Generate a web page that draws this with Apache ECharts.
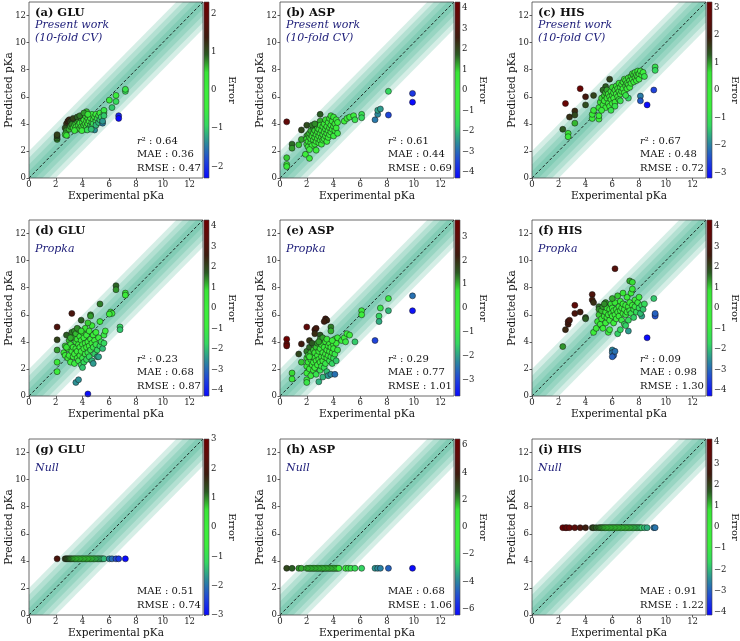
<!DOCTYPE html>
<html>
<head>
<meta charset="utf-8">
<script src="https://cdn.jsdelivr.net/npm/echarts@6/dist/echarts.min.js"></script>
<style>
  html, body { margin: 0; padding: 0; background: #fff; }
  #chart { width: 740px; height: 641px; }
</style>
</head>
<body>
<div id="chart"></div>
<script>
// panel labels
var panelTitles = ['(a) GLU', '(b) ASP', '(c) HIS', '(d) GLU', '(e) ASP', '(f) HIS', '(g) GLU', '(h) ASP', '(i) HIS'];
var methodNames = ['Present work\n(10-fold CV)', 'Propka', 'Null'];
var r2Values = ['0.64', '0.61', '0.67', '0.23', '0.29', '0.09', null, null, null];
var maeValues = ['0.36', '0.44', '0.48', '0.68', '0.77', '0.98', '0.51', '0.68', '0.91'];
var rmseValues = ['0.47', '0.69', '0.72', '0.87', '1.01', '1.30', '0.74', '1.06', '1.22'];

// colorbar limits and ticks
var errLimits = [2.3, 4.3, 3.2, 4.3, 3.7, 4.3, 3.0, 6.45, 4.15];
var errTicks = [
  [-2, -1, 0, 1, 2], [-4, -3, -2, -1, 0, 1, 2, 3, 4], [-3, -2, -1, 0, 1, 2, 3],
  [-4, -3, -2, -1, 0, 1, 2, 3, 4], [-3, -2, -1, 0, 1, 2, 3], [-4, -3, -2, -1, 0, 1, 2, 3, 4],
  [-3, -2, -1, 0, 1, 2, 3], [-6, -4, -2, 0, 2, 4, 6], [-4, -3, -2, -1, 0, 1, 2, 3, 4]
];
var axisTicks = [0, 2, 4, 6, 8, 10, 12];
var bandHalfWidths = [2, 1.5, 1, 0.5];

// error colormap (blue -> teal -> green -> black -> dark red)
var cmap = ['#0a0aff', '#2046d8', '#2c8a9a', '#34d860', '#3cee3c', '#3cee3c',
            '#38e436', '#2a5a22', '#3e1a0e', '#5e0c0a', '#6e0000'];

// [experimental, predicted]
var gluPresent = [
  [2.1,2.85],[2.1,2.95],[2.1,3.1],[2.1,3.2],
  [2.8,4.0],[2.9,4.2],[3.0,4.3],[3.1,4.15],[3.2,4.25],[3.3,4.1],[2.7,3.7],[2.8,3.5],[2.75,3.3],[2.7,3.2],[2.8,3.15],
  [3.0,3.6],[3.1,3.8],[3.2,3.95],[3.3,3.7],[3.4,3.9],[3.5,4.0],[3.5,3.75],[3.6,4.2],[3.6,3.6],[3.7,3.9],[3.7,4.3],
  [3.8,4.05],[3.8,3.65],[3.9,4.4],[3.9,3.8],[4.0,4.1],[4.0,3.7],[4.0,4.5],[4.1,3.9],[4.1,4.3],[4.2,4.0],[4.2,3.6],
  [4.2,4.6],[4.3,4.2],[4.3,3.8],[4.3,4.9],[4.4,4.4],[4.4,4.0],[4.5,3.7],[4.5,4.6],[4.5,4.2],[4.6,3.9],[4.6,4.4],
  [4.7,4.1],[4.7,4.7],[4.7,3.8],[4.8,4.3],[4.8,4.0],[4.9,4.5],[4.9,3.55],[5.0,4.2],[5.0,4.7],[5.0,3.9],[5.1,4.4],
  [5.2,4.1],[5.2,4.6],[5.3,4.3],[5.3,4.8],[5.4,4.5],[5.5,4.05],[5.5,4.2],[5.6,4.8],[5.6,5.0],[5.6,4.6],[3.4,3.5],
  [3.3,4.4],[3.6,4.5],[3.8,4.6],[4.1,4.8],[4.4,4.7],[3.95,3.5],[4.35,3.55],[4.65,3.6],
  [6.0,5.75],[6.2,5.2],[6.5,5.65],[6.5,6.1],[7.2,6.4],[7.2,6.55],[6.7,4.6],[6.7,4.4]
];
var aspPresent = [
  [0.5,4.15],[0.5,1.5],[0.5,1.0],[0.5,0.85],[0.9,2.5],[0.9,2.2],[1.4,2.45],[1.6,3.55],[1.6,2.85],[2.0,3.9],
  [1.9,1.75],[2.0,2.5],[2.2,1.45],[2.0,3.1],[2.0,2.9],[2.1,3.2],[2.1,2.7],[2.1,2.3],[2.2,3.0],[2.2,3.3],[2.3,2.6],
  [2.3,2.9],[2.3,3.5],[2.4,2.4],[2.4,3.1],[2.5,2.8],[2.5,3.3],[2.5,3.7],[2.6,2.5],[2.6,3.0],[2.6,3.5],[2.7,2.7],
  [2.7,3.2],[2.7,3.9],[2.7,2.05],[2.8,2.9],[2.8,3.4],[2.8,3.7],[2.9,2.6],[2.9,3.1],[2.9,3.6],[3.0,2.8],[3.0,3.3],
  [3.0,4.7],[3.0,4.2],[3.0,3.9],[3.1,3.0],[3.1,3.5],[3.1,2.5],[3.2,3.2],[3.2,3.8],[3.2,2.8],[3.3,3.4],[3.3,4.0],
  [3.3,2.9],[3.4,3.6],[3.4,3.1],[3.4,4.3],[3.5,3.3],[3.5,3.8],[3.5,2.7],[3.6,3.5],[3.6,4.1],[3.6,3.0],[3.7,3.7],
  [3.7,4.4],[3.7,3.2],[3.8,3.9],[3.8,3.4],[3.8,4.6],[3.9,3.6],[3.9,4.2],[4.0,3.8],[4.0,3.1],[4.0,4.5],[4.1,4.0],
  [4.1,3.5],[4.2,4.3],[4.2,3.7],[4.3,4.1],[4.3,3.3],[2.4,3.9],[2.2,2.1],[2.6,4.0],
  [4.8,4.2],[5.0,4.4],[5.2,4.5],[5.5,4.6],[5.6,4.3],[6.1,4.7],[6.1,4.45],[7.1,4.3],[7.3,4.7],[7.3,5.0],[7.5,5.1],
  [8.1,6.4],[8.1,4.65],[9.9,6.25],[9.9,5.6]
];
var hisPresent = [
  [2.3,3.6],[2.5,5.5],[2.7,3.3],[2.7,3.05],[2.8,4.5],[3.2,4.95],[3.2,4.65],[3.2,4.05],[3.6,6.6],[4.0,6.0],[4.0,5.4],
  [4.6,6.1],[4.5,4.4],[4.5,4.7],[4.6,5.0],[5.0,4.35],[5.0,4.6],[5.8,7.3],[5.5,6.75],[5.3,6.5],
  [5.0,5.2],[5.1,5.6],[5.2,5.9],[5.3,5.4],[5.4,6.1],[5.4,5.7],[5.5,6.3],[5.5,5.2],[5.6,5.9],[5.6,6.5],[5.7,5.5],
  [5.7,6.2],[5.8,6.0],[5.8,5.3],[5.9,6.4],[5.9,5.8],[6.0,6.1],[6.0,5.5],[6.0,6.7],[6.1,6.3],[6.1,5.9],[6.2,6.5],
  [6.2,5.6],[6.3,6.2],[6.3,6.8],[6.4,6.0],[6.4,6.6],[6.5,6.4],[6.5,5.8],[6.5,7.0],[6.6,6.7],[6.6,6.2],[6.7,6.9],
  [6.7,6.4],[6.8,7.1],[6.8,6.6],[6.9,6.3],[6.9,7.3],[7.0,6.8],[7.0,7.2],[7.1,7.0],[7.1,6.6],[7.2,7.4],[7.2,6.9],
  [7.3,7.2],[7.3,6.7],[7.4,7.5],[7.4,7.0],[7.5,7.3],[7.5,7.7],[7.6,7.1],[7.6,7.6],[7.7,7.4],[7.7,7.8],[7.8,7.6],
  [7.8,7.2],[7.9,7.9],[7.9,7.5],[8.0,7.7],[8.0,7.3],[8.1,7.9],[8.2,7.6],[8.3,7.8],[8.4,7.5],[6.2,5.3],[5.9,5.0],
  [6.6,5.7],[5.2,5.0],[7.2,5.9],[7.0,6.1],
  [9.2,8.2],[9.2,7.95],[8.1,6.05],[8.1,5.7],[8.6,5.4],[9.1,6.5]
];
var gluPropka = [
  [2.1,5.1],[2.1,4.15],[2.1,3.4],[2.1,2.5],[2.1,1.8],[3.2,6.1],[3.9,5.6],[4.6,6.0],[4.6,5.9],[5.3,6.8],[6.5,8.15],
  [6.5,7.85],[7.2,7.6],[7.2,7.45],[6.1,6.2],[6.2,6.1],[6.0,6.05],[6.8,5.1],[6.8,4.9],[3.5,1.0],[3.7,1.2],[4.4,0.15],
  [2.6,3.2],[2.7,3.0],[2.7,3.7],[2.8,4.5],[2.9,2.8],[2.9,3.5],[3.0,4.1],[3.0,3.0],[3.1,2.5],[3.1,3.8],[3.2,4.7],
  [3.2,3.3],[3.3,2.9],[3.3,4.3],[3.3,3.6],[3.4,4.8],[3.4,3.1],[3.4,2.4],[3.5,4.0],[3.5,3.5],[3.5,4.6],[3.6,2.8],
  [3.6,3.3],[3.6,4.2],[3.7,3.8],[3.7,2.6],[3.7,4.9],[3.8,3.0],[3.8,4.4],[3.8,3.6],[3.9,2.3],[3.9,3.3],[3.9,4.1],
  [4.0,3.8],[4.0,4.7],[4.0,2.8],[4.1,3.5],[4.1,4.3],[4.1,2.5],[4.2,3.1],[4.2,3.9],[4.2,5.0],[4.3,3.6],[4.3,4.5],
  [4.3,2.7],[4.4,4.0],[4.4,3.2],[4.5,3.7],[4.5,4.8],[4.5,2.9],[4.6,4.2],[4.6,3.4],[4.7,3.9],[4.7,2.6],[4.7,5.2],
  [4.8,3.6],[4.8,4.5],[4.9,3.1],[4.9,4.1],[5.0,3.8],[5.0,4.7],[5.1,3.4],[5.1,2.9],[5.2,4.3],[5.3,3.7],[5.4,4.0],
  [5.5,3.5],[5.6,3.9],[5.6,4.5],[5.7,4.8],[5.3,5.5],[4.4,5.4],[3.6,5.0],[3.9,4.8],[3.1,4.3],[2.8,3.6],[4.0,2.1],
  [4.8,2.4],[5.2,2.9]
];
var aspPropka = [
  [0.5,4.2],[0.5,3.85],[0.5,3.7],[0.9,1.7],[0.9,1.25],[1.4,3.1],[1.6,3.85],[1.6,2.5],[2.0,5.1],[2.2,4.1],[2.6,4.9],
  [2.7,5.0],[2.6,4.6],[3.0,4.5],[3.0,4.2],[3.4,5.7],[3.5,5.6],[3.3,5.5],[3.8,5.1],[3.8,4.8],[3.2,4.3],
  [2.0,3.3],[2.0,2.8],[2.0,2.2],[2.0,1.7],[2.0,1.2],[2.0,1.0],[2.1,3.0],[2.1,2.5],[2.2,3.6],[2.2,2.0],[2.3,2.7],
  [2.3,3.2],[2.3,1.5],[2.4,2.3],[2.4,3.9],[2.4,2.9],[2.5,2.5],[2.5,3.4],[2.5,1.9],[2.6,2.8],[2.6,3.2],[2.6,2.1],
  [2.7,2.6],[2.7,3.6],[2.7,1.6],[2.8,3.0],[2.8,2.3],[2.8,3.9],[2.9,2.7],[2.9,1.05],[2.9,3.3],[3.0,2.5],[3.0,3.5],
  [3.0,1.9],[3.1,2.9],[3.1,3.8],[3.1,2.2],[3.2,3.2],[3.2,2.6],[3.2,1.4],[3.3,3.6],[3.3,2.9],[3.3,2.1],[3.4,3.1],
  [3.4,4.0],[3.4,2.4],[3.5,3.4],[3.5,2.8],[3.5,1.8],[3.6,3.7],[3.6,3.0],[3.6,1.5],[3.7,2.6],[3.7,3.9],[3.7,3.3],
  [3.8,2.9],[3.8,1.6],[3.8,3.6],[3.9,3.2],[3.9,2.4],[4.0,3.8],[4.0,2.8],[4.0,3.5],[4.1,4.2],[4.1,1.6],[4.1,3.1],
  [4.2,2.6],[4.2,3.9],[4.3,3.4],[4.3,4.3],[2.2,2.9],[2.9,4.0],[3.5,4.2],[3.9,4.1],
  [4.6,4.1],[4.8,4.3],[5.0,4.6],[5.2,4.5],[4.9,4.0],[5.6,4.0],[6.1,6.3],[6.1,6.0],[7.4,5.9],[7.4,5.5],[7.5,6.5],
  [8.1,7.2],[8.1,6.3],[7.1,4.1],[9.9,7.4],[9.9,6.3]
];
var hisPropka = [
  [2.3,3.65],[2.5,4.9],[2.7,5.3],[2.7,5.5],[2.8,5.6],[3.2,6.7],[3.2,6.1],[3.6,6.2],[4.0,5.8],[4.0,5.7],[4.5,7.5],
  [4.5,7.1],[4.6,6.9],[5.0,6.6],[5.0,6.4],[6.2,9.4],[7.3,8.5],[7.5,8.4],[5.5,6.9],[6.0,3.4],[6.0,3.2],[6.1,3.0],
  [6.0,2.9],[6.2,3.3],[8.6,4.3],[9.2,6.0],[9.2,5.9],[9.2,6.1],[8.2,5.9],[7.2,4.8],[9.1,7.2],
  [4.6,4.7],[4.8,5.0],[4.9,5.5],[5.0,6.0],[5.1,5.3],[5.2,6.3],[5.2,5.7],[5.3,5.0],[5.3,6.6],[5.4,5.9],[5.5,6.2],
  [5.5,5.4],[5.6,6.5],[5.6,5.8],[5.7,6.0],[5.7,4.7],[5.8,6.4],[5.8,5.6],[5.9,6.1],[5.9,6.8],[6.0,5.9],[6.0,6.5],
  [6.1,5.4],[6.1,6.3],[6.2,6.0],[6.2,6.9],[6.3,5.7],[6.3,6.4],[6.4,6.2],[6.4,4.6],[6.5,6.6],[6.5,5.9],[6.6,6.3],
  [6.6,7.0],[6.7,5.6],[6.7,6.5],[6.8,6.1],[6.8,6.8],[6.9,5.3],[6.9,6.4],[7.0,6.7],[7.0,6.0],[7.1,7.3],[7.1,6.2],
  [7.2,6.6],[7.2,5.6],[7.3,6.9],[7.3,6.3],[7.4,7.6],[7.4,6.1],[7.5,6.7],[7.5,7.9],[7.6,6.4],[7.6,5.8],[7.7,7.1],
  [7.7,6.6],[7.8,6.2],[7.9,6.9],[8.0,6.5],[8.0,7.3],[8.1,6.1],[8.2,6.7],[8.3,6.4],[8.4,6.8],[6.0,7.2],[6.4,7.4],
  [6.8,7.6],[5.4,6.8],[7.0,5.2],[6.6,4.9],[5.8,4.9]
];

// null model: constant prediction
var gluNullPred = 4.15, aspNullPred = 3.45, hisNullPred = 6.45;
var gluNullExp = [2.1, 2.7, 2.8, 2.9, 3.0, 3.1, 3.2, 3.3, 3.4, 3.5, 3.6, 3.7, 3.8, 3.9, 4.0, 4.1, 4.2, 4.3,
  4.4, 4.5, 4.6, 4.7, 4.8, 4.9, 5.0, 5.1, 5.2, 5.3, 5.4, 5.5, 5.6, 6.0, 6.2, 6.5, 6.7, 7.2];
var aspNullExp = [0.5, 0.9, 1.4, 1.6, 2.0, 2.1, 2.2, 2.3, 2.4, 2.5, 2.6, 2.7, 2.8, 2.9, 3.0, 3.1, 3.2, 3.3,
  3.4, 3.5, 3.6, 3.7, 3.8, 3.9, 4.0, 4.1, 4.2, 4.3, 4.4, 4.9, 5.1, 5.3, 5.6, 6.1, 7.1, 7.3, 7.5, 8.1, 9.9];
var hisNullExp = [2.3, 2.5, 2.6, 2.8, 3.2, 3.6, 4.0, 4.5, 4.6, 4.8, 5.0, 5.1, 5.2, 5.3, 5.4, 5.5, 5.6, 5.7,
  5.8, 5.9, 6.0, 6.1, 6.2, 6.3, 6.4, 6.5, 6.6, 6.7, 6.8, 6.9, 7.0, 7.1, 7.2, 7.3, 7.4, 7.5, 7.6, 7.7, 7.8,
  7.9, 8.0, 8.1, 8.2, 8.4, 8.6, 9.1, 9.2];

function nullPoints(xs, pred) {
  return xs.map(function (x) { return [x, pred]; });
}

var panelPoints = [
  gluPresent, aspPresent, hisPresent,
  gluPropka, aspPropka, hisPropka,
  nullPoints(gluNullExp, gluNullPred), nullPoints(aspNullExp, aspNullPred), nullPoints(hisNullExp, hisNullPred)
];

var FONT = 'DejaVu Serif';
var colLeft = [29, 280, 532];
var rowTop = [2, 220, 439];
var PW = 174, PH = 176;

var grids = [], xAxes = [], yAxes = [], series = [], visualMaps = [], graphics = [];

function minusFmt(v) { return String(v).replace('-', '\u2212'); }

var gradStops = cmap.slice().reverse().map(function (c, k) {
  return { offset: k / (cmap.length - 1), color: c };
});

panelPoints.forEach(function (pts, i) {
  var col = i % 3, row = Math.floor(i / 3);
  var L = colLeft[col], T = rowTop[row], cbL = L + 175;
  var lim = errLimits[i];

  // scatter plot grid
  var gi = grids.length;
  grids.push({ left: L, top: T, width: PW, height: PH });
  xAxes.push({
    gridIndex: gi, type: 'value', min: 0, max: 13,
    axisLine: { show: false }, splitLine: { show: false },
    axisTick: { show: true, length: 2.5, customValues: axisTicks, lineStyle: { color: '#333', width: 0.8 } },
    axisLabel: { customValues: axisTicks, margin: 2, fontSize: 8.5, fontFamily: FONT, color: '#222' }
  });
  yAxes.push({
    gridIndex: gi, type: 'value', min: 0, max: 13,
    axisLine: { show: false }, splitLine: { show: false },
    axisTick: { show: true, length: 2.5, customValues: axisTicks, lineStyle: { color: '#333', width: 0.8 } },
    axisLabel: { customValues: axisTicks, margin: 3, fontSize: 8.5, fontFamily: FONT, color: '#222' }
  });

  // tolerance bands around y = x
  series.push({
    type: 'custom', xAxisIndex: gi, yAxisIndex: gi, silent: true, z: 1,
    data: bandHalfWidths.map(function (d) { return [d]; }),
    renderItem: function (params, api) {
      var d = api.value(0);
      var poly = [[0, 0], [d, 0], [13, 13 - d], [13, 13], [13 - d, 13], [0, d]].map(function (p) {
        return api.coord(p);
      });
      return { type: 'polygon', shape: { points: poly }, style: { fill: 'rgba(44,170,130,0.2)' } };
    }
  });
  // y = x reference
  series.push({
    type: 'line', xAxisIndex: gi, yAxisIndex: gi, silent: true, z: 2,
    data: [[0, 0], [13, 13]], symbol: 'none',
    lineStyle: { color: '#000', width: 0.8, type: [3, 2] }
  });
  var si = series.length;
  series.push({
    type: 'scatter', xAxisIndex: gi, yAxisIndex: gi, z: 3,
    data: pts.map(function (p) { return [p[0], p[1], p[1] - p[0]]; }),
    symbolSize: 6,
    itemStyle: { opacity: 1, borderColor: '#151515', borderWidth: 0.5 }
  });
  visualMaps.push({
    type: 'continuous', show: false, seriesIndex: si, dimension: 2,
    min: -lim, max: lim, inRange: { color: cmap }
  });

  // colorbar
  var ci = grids.length;
  grids.push({ left: cbL, top: T, width: 5, height: PH });
  xAxes.push({ gridIndex: ci, type: 'value', min: 0, max: 1, show: false });
  yAxes.push({
    gridIndex: ci, type: 'value', position: 'right', min: -lim, max: lim,
    axisLine: { show: false }, splitLine: { show: false },
    axisTick: { show: true, length: 2, customValues: errTicks[i], lineStyle: { color: '#333', width: 0.8 } },
    axisLabel: { customValues: errTicks[i], formatter: minusFmt, margin: 2, fontSize: 8.5, fontFamily: FONT, color: '#222' }
  });
  series.push({
    type: 'custom', xAxisIndex: ci, yAxisIndex: ci, silent: true,
    data: [[-lim, lim]],
    renderItem: function (params, api) {
      var a = api.coord([0, api.value(1)]);
      var b = api.coord([1, api.value(0)]);
      return {
        type: 'rect',
        shape: { x: a[0], y: a[1], width: b[0] - a[0], height: b[1] - a[1] },
        style: { fill: { type: 'linear', x: 0, y: 0, x2: 0, y2: 1, colorStops: gradStops } }
      };
    }
  });

  // frames
  graphics.push({ type: 'rect', z: 100, silent: true, shape: { x: L, y: T, width: PW, height: PH },
    style: { fill: 'none', stroke: '#444', lineWidth: 0.8 } });
  graphics.push({ type: 'rect', z: 100, silent: true, shape: { x: cbL, y: T, width: 5, height: PH },
    style: { fill: 'none', stroke: '#444', lineWidth: 0.6 } });

  // texts
  graphics.push({ type: 'text', z: 101, x: L + 6, y: T + 11,
    style: { text: panelTitles[i], fontFamily: FONT, fontWeight: 'bold', fontSize: 11.5, fill: '#111',
      textAlign: 'left', textVerticalAlign: 'middle' } });
  graphics.push({ type: 'text', z: 101, x: L + 6, y: T + 29.5,
    style: { text: methodNames[row], fontFamily: FONT, fontStyle: 'italic', fontSize: 11, fill: '#1c1c78',
      lineHeight: 13, textAlign: 'left', textVerticalAlign: 'middle' } });
  if (r2Values[i] !== null) {
    graphics.push({ type: 'text', z: 101, x: L + 108, y: T + 139,
      style: { text: '{i|r}² : ' + r2Values[i], fontFamily: FONT, fontSize: 10, fill: '#111',
        rich: { i: { fontFamily: FONT, fontStyle: 'italic', fontSize: 10, fill: '#111' } },
        textAlign: 'left', textVerticalAlign: 'middle' } });
  }
  graphics.push({ type: 'text', z: 101, x: L + 108, y: T + 152.5,
    style: { text: 'MAE : ' + maeValues[i], fontFamily: FONT, fontSize: 10, fill: '#111',
      textAlign: 'left', textVerticalAlign: 'middle' } });
  graphics.push({ type: 'text', z: 101, x: L + 108, y: T + 166,
    style: { text: 'RMSE : ' + rmseValues[i], fontFamily: FONT, fontSize: 10, fill: '#111',
      textAlign: 'left', textVerticalAlign: 'middle' } });

  // axis titles
  graphics.push({ type: 'text', z: 101, x: L - 20, y: T + PH / 2, rotation: Math.PI / 2,
    style: { text: 'Predicted pKa', fontFamily: FONT, fontSize: 10.5, fill: '#111',
      textAlign: 'center', textVerticalAlign: 'middle' } });
  graphics.push({ type: 'text', z: 101, x: L + PW / 2, y: T + PH + 18,
    style: { text: 'Experimental pKa', fontFamily: FONT, fontSize: 10.5, fill: '#111',
      textAlign: 'center', textVerticalAlign: 'middle' } });
  graphics.push({ type: 'text', z: 101, x: cbL + 28, y: T + PH / 2, rotation: -Math.PI / 2,
    style: { text: 'Error', fontFamily: FONT, fontSize: 10, fill: '#111',
      textAlign: 'center', textVerticalAlign: 'middle' } });
});

var chart = echarts.init(document.getElementById('chart'), null, { renderer: 'canvas' });
chart.setOption({
  animation: false,
  backgroundColor: '#fff',
  grid: grids,
  xAxis: xAxes,
  yAxis: yAxes,
  visualMap: visualMaps,
  series: series,
  graphic: { elements: graphics }
});
</script>
</body>
</html>
